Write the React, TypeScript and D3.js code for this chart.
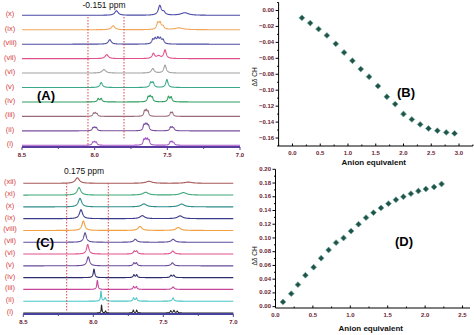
import React from "react";
import * as d3 from "d3";

// ---------- DATA ----------
// NMR panel A: trace labels (bottom -> top) and peak lists [ppm, intensity, half-width]
const labelsA = ["(i)", "(ii)", "(iii)", "(iv)", "(v)", "(vi)", "(vii)", "(viii)", "(ix)", "(x)"];
const peaksA: number[][][] = [
  [[8.013, 2.8, 0.006], [8.001, 3.0, 0.006], [7.989, 2.8, 0.006], [7.662, 5.0, 0.006], [7.650, 5.2, 0.006], [7.638, 5.2, 0.006], [7.626, 4.6, 0.006], [7.480, 3.2, 0.006], [7.468, 3.2, 0.006], [7.456, 2.2, 0.006]],
  [[8.012, 2.8, 0.006], [8.000, 3.0, 0.006], [7.988, 2.8, 0.006], [7.662, 5.0, 0.006], [7.651, 5.2, 0.006], [7.640, 5.2, 0.006], [7.629, 4.4, 0.006], [7.479, 3.2, 0.006], [7.467, 3.2, 0.006], [7.456, 2.2, 0.006]],
  [[8.008, 2.8, 0.006], [7.996, 3.0, 0.006], [7.984, 2.4, 0.006], [7.657, 5.0, 0.006], [7.645, 5.4, 0.006], [7.633, 4.6, 0.006], [7.477, 3.6, 0.006], [7.465, 3.6, 0.006]],
  [[7.975, 3.3, 0.007], [7.955, 3.3, 0.007], [7.632, 4.6, 0.007], [7.618, 5.0, 0.007], [7.604, 4.2, 0.007], [7.492, 5.2, 0.007], [7.474, 4.8, 0.007]],
  [[7.955, 5, 0.01], [7.614, 4.8, 0.008], [7.598, 4.8, 0.008], [7.503, 8, 0.009]],
  [[7.936, 3.5, 0.015], [7.600, 4.5, 0.011], [7.516, 8, 0.01]],
  [[7.917, 4, 0.013], [7.596, 5, 0.01], [7.56, 2.5, 0.015], [7.516, 8.5, 0.01]],
  [[7.896, 4.5, 0.012], [7.600, 4.2, 0.008], [7.583, 5.0, 0.008], [7.565, 5.4, 0.008], [7.548, 5.0, 0.008], [7.530, 4.0, 0.009]],
  [[7.873, 4, 0.014], [7.566, 6.2, 0.009], [7.550, 6.2, 0.009], [7.530, 3, 0.01], [7.42, 1.8, 0.035]],
  [[7.850, 4.5, 0.014], [7.552, 9.5, 0.012], [7.525, 3, 0.012], [7.38, 2.5, 0.03]],
];

// NMR panel C
const labelsC = ["(i)", "(ii)", "(iii)", "(iv)", "(v)", "(vi)", "(vii)", "(viii)", "(ix)", "(x)", "(xi)", "(xii)"];
const peaksC: number[][][] = [
  [[7.941, 8, 0.003], [7.912, 2, 0.004], [7.714, 3, 0.004], [7.690, 3, 0.004], [7.447, 2.2, 0.005], [7.424, 2.6, 0.005], [7.400, 1.8, 0.005]],
  [[7.945, 10, 0.004], [7.915, 3.5, 0.007], [7.712, 3.2, 0.006], [7.692, 3.2, 0.006], [7.430, 3.3, 0.007]],
  [[7.971, 9, 0.005], [7.712, 2.8, 0.006], [7.692, 2.8, 0.006], [7.430, 2.5, 0.009]],
  [[7.995, 8.5, 0.006], [7.710, 2.8, 0.006], [7.690, 2.8, 0.006], [7.445, 2.3, 0.007], [7.425, 2.3, 0.007]],
  [[8.036, 9, 0.011], [7.710, 2.8, 0.007], [7.692, 2.8, 0.007], [7.435, 3, 0.011]],
  [[8.040, 9.5, 0.01], [7.708, 2.8, 0.008], [7.690, 2.8, 0.008], [7.432, 3, 0.012]],
  [[8.059, 9.5, 0.011], [7.700, 3, 0.013], [7.430, 3, 0.015]],
  [[8.071, 9.5, 0.012], [7.666, 4, 0.016], [7.393, 3, 0.019]],
  [[8.088, 9, 0.013], [7.650, 3, 0.019], [7.380, 2.8, 0.021]],
  [[8.095, 8.5, 0.014], [7.638, 3, 0.021], [7.369, 2.8, 0.023]],
  [[8.102, 7.5, 0.015], [7.626, 2.8, 0.023], [7.357, 2.5, 0.026]],
  [[8.114, 5.5, 0.017], [7.602, 2, 0.026], [7.321, 1.2, 0.03]],
];

const nmrTicks = [8.5, 8.0, 7.5, 7.0];
const nmrMinor = [8.25, 7.75, 7.25];
const markersA = [8.046, 7.798];
const markersC = [8.19, 7.893];

// Titration B
const equivB = [0.17, 0.32, 0.47, 0.62, 0.78, 0.93, 1.08, 1.23, 1.38, 1.54, 1.70, 1.85, 2.00, 2.15, 2.30, 2.45, 2.61, 2.77, 2.92];
const shiftB = [-0.0092, -0.0158, -0.0233, -0.0313, -0.0418, -0.0527, -0.0631, -0.0735, -0.0831, -0.0948, -0.1082, -0.1174, -0.1299, -0.1367, -0.1429, -0.148, -0.1508, -0.153, -0.1542];
const bXTicks = [0, 0.5, 1.0, 1.5, 2.0, 2.5, 3.0];
const bYTicks = [0, -0.02, -0.04, -0.06, -0.08, -0.10, -0.12, -0.14, -0.16];

// Titration D
const equivD = [0.10, 0.21, 0.30, 0.40, 0.51, 0.61, 0.71, 0.81, 0.91, 1.01, 1.11, 1.21, 1.31, 1.41, 1.51, 1.61, 1.71, 1.81, 1.91, 2.01, 2.12, 2.22];
const shiftD = [0.0068, 0.0189, 0.032, 0.0457, 0.0574, 0.0705, 0.0825, 0.0932, 0.100, 0.110, 0.120, 0.1296, 0.1368, 0.1437, 0.150, 0.1557, 0.160, 0.1645, 0.1684, 0.1713, 0.1742, 0.1786];
const dXTicks = [0, 0.5, 1.0, 1.5, 2.0, 2.5];
const dYTicks = [0, 0.02, 0.04, 0.06, 0.08, 0.10, 0.12, 0.14, 0.16, 0.18, 0.20];

// ---------- STYLE ----------
const colorsA = ["#a655c6", "#7b4f9f", "#9a6a78", "#2f9e60", "#3aa88a", "#a2a2a2", "#e0508a", "#4c4ca2", "#f2a65a", "#4b4ba8"];
const colorsC = ["#222222", "#4ac6c6", "#c8449a", "#2c2c6c", "#6a4a9a", "#e0508c", "#5e4c9c", "#f0a040", "#3c3c8c", "#2f8c8c", "#3fa878", "#a85858"];
const FONT = "'Liberation Sans', Arial, sans-serif";
const LABEL_RED = "#d83a40";
const TICK_COL = "#6b2230";
const MARK_FILL = "#1f544a";
const MARK_STROKE = "#6aa193";

const ppmGrid = d3.range(7.0, 8.5001, 0.0008);

function spectrum(peaks: number[][]) {
  return ppmGrid.map((p) => {
    let s = 0;
    for (const [c, h, w] of peaks) s += (h * w * w) / ((p - c) * (p - c) + w * w);
    return [p, s] as [number, number];
  });
}

function NmrPanel({ labels, peaks, colors, x, base, markers, markTop, markBottoms, axisY, axisColor, title, titleX, titleY, letter, letterX, letterY }: any) {
  const intensity = d3.scaleLinear().domain([0, 10]).range([0, 10]);
  return (
    <g>
      {labels.map((lab: string, i: number) => {
        const b = base(lab);
        const line = d3.line<[number, number]>().x((d) => x(d[0])).y((d) => b - intensity(d[1]));
        return (
          <g key={lab}>
            <path d={line(spectrum(peaks[i])) || ""} fill="none" stroke={colors[i]} strokeWidth={1.1} strokeLinejoin="round" />
            <text x={10} y={b - 1} textAnchor="middle" dominantBaseline="middle" fontFamily={FONT} fontSize={7.5} fill={LABEL_RED}>{lab}</text>
          </g>
        );
      })}
      {markers.map((m: number, i: number) => (
        <line key={m} x1={x(m)} x2={x(m)} y1={markTop} y2={markBottoms[i]} stroke="#d84848" strokeWidth={1} strokeDasharray="1.5,1.5" />
      ))}
      <line x1={x(8.5)} x2={x(7.0)} y1={axisY} y2={axisY} stroke={axisColor} strokeWidth={2} />
      {nmrTicks.map((t) => (
        <g key={t}>
          <line x1={x(t)} x2={x(t)} y1={axisY} y2={axisY + 3} stroke={axisColor} strokeWidth={1} />
          <text x={x(t)} y={axisY + 8} textAnchor="middle" dominantBaseline="middle" fontFamily={FONT} fontSize={6} fontWeight={700} fill={TICK_COL}>{d3.format(".1f")(t)}</text>
        </g>
      ))}
      {nmrMinor.map((t) => (
        <line key={t} x1={x(t)} x2={x(t)} y1={axisY} y2={axisY + 2} stroke={axisColor} strokeWidth={1} />
      ))}
      <text x={titleX} y={titleY} textAnchor="middle" dominantBaseline="middle" fontFamily={FONT} fontSize={8.5} fill="#111">{title}</text>
      <text x={letterX} y={letterY} textAnchor="middle" dominantBaseline="middle" fontFamily={FONT} fontSize={13} fontWeight={700} fill="#000">{letter}</text>
    </g>
  );
}

function ScatterPanel({ xs, ys, x, y, xTicks, yTicks, xStep, yStep, letter, letterX, letterY, titleY, yTitleY }: any) {
  const [x0, x1] = x.range();
  const [yb, yt] = y.range();
  const sym = d3.symbol().type(d3.symbolSquare).size(17)();
  const xMinor = d3.range(x.domain()[0], x.domain()[1] + 1e-9, xStep / 2).filter((v: number) => Math.abs(v / xStep - Math.round(v / xStep)) > 1e-6);
  const yMinor = d3.range(Math.min(...yTicks) - yStep / 2, Math.max(...yTicks) + yStep, yStep).filter((v: number) => v >= y.domain()[0] && v <= y.domain()[1]);
  return (
    <g>
      <line x1={x0} x2={x1} y1={yb} y2={yb} stroke="#000" strokeWidth={1} />
      <line x1={x0} x2={x0} y1={yb} y2={yt} stroke="#000" strokeWidth={1} />
      {xTicks.map((t: number) => (
        <g key={t}>
          <line x1={x(t)} x2={x(t)} y1={yb} y2={yb - 2.5} stroke="#000" />
          <text x={x(t)} y={yb + 7.5} textAnchor="middle" dominantBaseline="middle" fontFamily={FONT} fontSize={6} fontWeight={700} fill={TICK_COL}>{d3.format(".1f")(t)}</text>
        </g>
      ))}
      {xMinor.map((t: number) => <line key={t} x1={x(t)} x2={x(t)} y1={yb} y2={yb - 1.5} stroke="#000" />)}
      {yTicks.map((t: number) => (
        <g key={t}>
          <line x1={x0} x2={x0 - 3} y1={y(t)} y2={y(t)} stroke="#000" />
          <text x={x0 - 4.5} y={y(t)} textAnchor="end" dominantBaseline="middle" fontFamily={FONT} fontSize={6} fontWeight={700} fill={TICK_COL}>{d3.format(".2f")(t)}</text>
        </g>
      ))}
      {yMinor.map((t: number) => <line key={t} x1={x0} x2={x0 - 1.5} y1={y(t)} y2={y(t)} stroke="#000" />)}
      {xs.map((v: number, i: number) => (
        <path key={i} d={sym || ""} transform={`translate(${x(v)},${y(ys[i])}) rotate(45)`} fill={MARK_FILL} stroke={MARK_STROKE} strokeWidth={0.6} />
      ))}
      <text x={(x0 + x1) / 2 - 2} y={titleY} textAnchor="middle" dominantBaseline="middle" fontFamily={FONT} fontSize={8} fontWeight={700} fill="#111">Anion equivalent</text>
      <text transform={`translate(255,${yTitleY}) rotate(-90)`} textAnchor="middle" dominantBaseline="middle" fontFamily={FONT} fontSize={6.5} fill="#111">Δδ CH</text>
      <text x={letterX} y={letterY} textAnchor="middle" dominantBaseline="middle" fontFamily={FONT} fontSize={13} fontWeight={700} fill="#000">{letter}</text>
    </g>
  );
}

export default function App() {
  const xA = d3.scaleLinear().domain([8.5, 7.0]).range([22, 240]);
  const baseA = d3.scalePoint<string>().domain(labelsA).range([145.3, 15.3]);
  const xC = d3.scaleLinear().domain([8.5, 7.0]).range([23.3, 233.3]);
  const baseC = d3.scalePoint<string>().domain(labelsC).range([313, 183.3]);

  const xB = d3.scaleLinear().domain([-0.25, 3.25]).range([278.6, 472.9]);
  const yB = d3.scaleLinear().domain([-0.17, 0.01]).range([146, 2.5]);
  const xD = d3.scaleLinear().domain([0, 2.6]).range([275.5, 470]);
  const yD = d3.scaleLinear().domain([-0.002, 0.2]).range([308, 169.3]);

  return (
    <svg width={474} height={335} style={{ position: "absolute", left: 0, top: 0, background: "#fff" }}>
      <rect width={474} height={335} fill="#fff" />
      <NmrPanel labels={labelsA} peaks={peaksA} colors={colorsA} x={xA} base={baseA} markers={markersA} markTop={17} markBottoms={[145, 140]} axisY={147} axisColor="#5a3c9e" title="-0.151 ppm" titleX={104} titleY={5.5} letter="(A)" letterX={46} letterY={97} />
      <NmrPanel labels={labelsC} peaks={peaksC} colors={colorsC} x={xC} base={baseC} markers={markersC} markTop={183} markBottoms={[312, 312]} axisY={314} axisColor="#45419e" title="0.175 ppm" titleX={84} titleY={172} letter="(C)" letterX={45} letterY={244} />
      <ScatterPanel xs={equivB} ys={shiftB} x={xB} y={yB} xTicks={bXTicks} yTicks={bYTicks} xStep={0.5} yStep={0.02} letter="(B)" letterX={406} letterY={94} titleY={163} yTitleY={77} />
      <ScatterPanel xs={equivD} ys={shiftD} x={xD} y={yD} xTicks={dXTicks} yTicks={dYTicks} xStep={0.5} yStep={0.02} letter="(D)" letterX={404} letterY={243} titleY={329} yTitleY={256} />
    </svg>
  );
}
